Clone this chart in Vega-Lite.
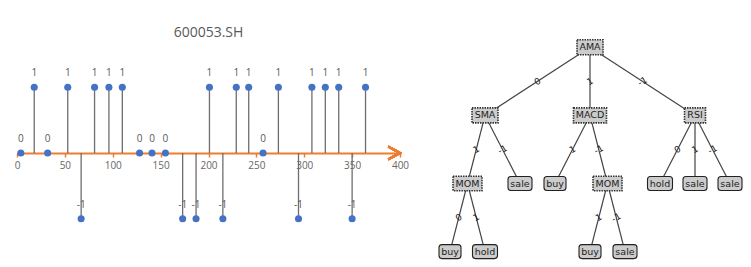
{
  "$schema": "https://vega.github.io/schema/vega-lite/v6.json",
  "padding": {"top": 26, "left": 14, "right": 0, "bottom": 0},
  "spacing": 11,
  "background": "white",
  "config": {"view": {"stroke": null}, "font": "Open Sans"},
  "hconcat": [
    {
      "width": 383,
      "height": 227,
      "title": {"text": "600053.SH", "fontSize": 14, "font": "Open Sans", "fontWeight": "normal", "color": "#595959", "offset": 0, "anchor": "middle"},
      "data": {"values": [
        {"t": 4, "v": 0}, {"t": 18, "v": 1}, {"t": 32, "v": 0}, {"t": 53, "v": 1}, {"t": 67, "v": -1},
        {"t": 81, "v": 1}, {"t": 96, "v": 1}, {"t": 110, "v": 1}, {"t": 128, "v": 0}, {"t": 141, "v": 0},
        {"t": 155, "v": 0}, {"t": 173, "v": -1}, {"t": 187, "v": -1}, {"t": 201, "v": 1}, {"t": 215, "v": -1},
        {"t": 229, "v": 1}, {"t": 242, "v": 1}, {"t": 257, "v": 0}, {"t": 273, "v": 1}, {"t": 294, "v": -1},
        {"t": 308, "v": 1}, {"t": 322, "v": 1}, {"t": 336, "v": 1}, {"t": 350, "v": -1}, {"t": 364, "v": 1}
      ]},
      "layer": [
        {
          "mark": {"type": "rule", "color": "#6e6e6e", "strokeWidth": 1.3},
          "encoding": {
            "x": {"field": "t", "type": "quantitative",
                  "scale": {"domain": [0, 400], "nice": false, "zero": false},
                  "axis": {"values": [0, 50, 100, 150, 200, 250, 300, 350, 400], "domainColor": "#ED7D31", "domainWidth": 2.2,
                           "tickColor": "#ED7D31", "tickWidth": 1.5, "tickSize": 4, "labelColor": "#666666", "labelFontSize": 10,
                           "labelFont": "Open Sans", "labelPadding": 3, "labelFlush": false, "grid": false, "title": null, "offset": -114}},
            "y": {"field": "v", "type": "quantitative", "scale": {"domain": [-1.736, 1.7207], "nice": false, "zero": false}, "axis": null},
            "y2": {"datum": 0}
          }
        },
        {
          "mark": {"type": "point", "shape": "M-1,-0.55L0,0L-1,0.55", "filled": false, "stroke": "#ED7D31", "strokeWidth": 2, "size": 547, "opacity": 1},
          "encoding": {"x": {"datum": 400}, "y": {"datum": 0}}
        },
        {
          "mark": {"type": "circle", "color": "#4472C4", "size": 50, "opacity": 1},
          "encoding": {"x": {"field": "t", "type": "quantitative"}, "y": {"field": "v", "type": "quantitative"}}
        },
        {
          "mark": {"type": "text", "dy": -14, "fontSize": 10, "fill": "#595959", "font": "Open Sans"},
          "encoding": {"x": {"field": "t", "type": "quantitative"}, "y": {"field": "v", "type": "quantitative"}, "text": {"field": "v", "type": "nominal"}}
        }
      ]
    },
    {
      "width": 331,
      "height": 227,
      "layer": [
        {
          "data": {"values": [
            {"s1": 4, "l1": 0, "s2": 1, "l2": 1, "lab": "0"},
            {"s1": 4, "l1": 0, "s2": 4, "l2": 1, "lab": "1"},
            {"s1": 4, "l1": 0, "s2": 7, "l2": 1, "lab": "-1"},
            {"s1": 1, "l1": 1, "s2": 0.5, "l2": 2, "lab": "1"},
            {"s1": 1, "l1": 1, "s2": 2, "l2": 2, "lab": "-1"},
            {"s1": 4, "l1": 1, "s2": 3, "l2": 2, "lab": "1"},
            {"s1": 4, "l1": 1, "s2": 4.5, "l2": 2, "lab": "-1"},
            {"s1": 7, "l1": 1, "s2": 6, "l2": 2, "lab": "0"},
            {"s1": 7, "l1": 1, "s2": 7, "l2": 2, "lab": "1"},
            {"s1": 7, "l1": 1, "s2": 8, "l2": 2, "lab": "-1"},
            {"s1": 0.5, "l1": 2, "s2": 0, "l2": 3, "lab": "0"},
            {"s1": 0.5, "l1": 2, "s2": 1, "l2": 3, "lab": "1"},
            {"s1": 4.5, "l1": 2, "s2": 4, "l2": 3, "lab": "1"},
            {"s1": 4.5, "l1": 2, "s2": 5, "l2": 3, "lab": "-1"}
          ]},
          "transform": [
            {"calculate": "(datum.s1 + datum.s2) / 2", "as": "ms"},
            {"calculate": "(datum.l1 + datum.l2) / 2", "as": "ml"}
          ],
          "layer": [
            {
              "mark": {"type": "rule", "color": "#444444", "strokeWidth": 1.2},
              "encoding": {
                "x": {"field": "s1", "type": "quantitative", "scale": {"domain": [-0.857, 8.6], "nice": false, "zero": false}, "axis": null},
                "x2": {"field": "s2"},
                "y": {"field": "l1", "type": "quantitative", "scale": {"domain": [-0.1072, 3.226], "nice": false, "zero": false, "reverse": true}, "axis": null},
                "y2": {"field": "l2"}
              }
            },
            {
              "mark": {"type": "text", "angle": 330, "fontSize": 9, "fill": "#222222", "font": "DejaVu Sans"},
              "encoding": {
                "x": {"field": "ms", "type": "quantitative"},
                "y": {"field": "ml", "type": "quantitative"},
                "text": {"field": "lab", "type": "nominal"}
              }
            }
          ]
        },
        {
          "data": {"values": [
            {"label": "AMA", "s": 4, "l": 0, "kind": "decision"},
            {"label": "SMA", "s": 1, "l": 1, "kind": "decision"},
            {"label": "MACD", "s": 4, "l": 1, "kind": "decision"},
            {"label": "RSI", "s": 7, "l": 1, "kind": "decision"},
            {"label": "MOM", "s": 0.5, "l": 2, "kind": "decision"},
            {"label": "sale", "s": 2, "l": 2, "kind": "leaf"},
            {"label": "buy", "s": 3, "l": 2, "kind": "leaf"},
            {"label": "MOM", "s": 4.5, "l": 2, "kind": "decision"},
            {"label": "hold", "s": 6, "l": 2, "kind": "leaf"},
            {"label": "sale", "s": 7, "l": 2, "kind": "leaf"},
            {"label": "sale", "s": 8, "l": 2, "kind": "leaf"},
            {"label": "buy", "s": 0, "l": 3, "kind": "leaf"},
            {"label": "hold", "s": 1, "l": 3, "kind": "leaf"},
            {"label": "buy", "s": 4, "l": 3, "kind": "leaf"},
            {"label": "sale", "s": 5, "l": 3, "kind": "leaf"}
          ]},
          "layer": [
            {
              "transform": [{"filter": "datum.kind === 'decision'"}],
              "mark": {"type": "point", "filled": true, "fill": "#cccccc", "stroke": "#333333", "strokeWidth": 1.6, "strokeDash": [1.5, 1], "size": 400, "opacity": 1, "fillOpacity": 1, "strokeOpacity": 1},
              "encoding": {
                "x": {"field": "s", "type": "quantitative"},
                "y": {"field": "l", "type": "quantitative"},
                "shape": {"field": "label", "type": "nominal", "legend": null,
                  "scale": {"domain": ["AMA", "SMA", "MACD", "RSI", "MOM", "sale", "buy", "hold"],
                            "range": ["M-1.3,-0.75H1.3V0.75H-1.3Z", "M-1.3,-0.75H1.3V0.75H-1.3Z", "M-1.65,-0.75H1.65V0.75H-1.65Z", "M-1.05,-0.75H1.05V0.75H-1.05Z", "M-1.45,-0.72H1.45V0.72H-1.45Z",
                                      "M-0.9,-0.7H0.9Q1.2,-0.7 1.2,-0.4V0.4Q1.2,0.7 0.9,0.7H-0.9Q-1.2,0.7 -1.2,0.4V-0.4Q-1.2,-0.7 -0.9,-0.7Z",
                                      "M-0.8,-0.7H0.8Q1.1,-0.7 1.1,-0.4V0.4Q1.1,0.7 0.8,0.7H-0.8Q-1.1,0.7 -1.1,0.4V-0.4Q-1.1,-0.7 -0.8,-0.7Z",
                                      "M-0.95,-0.7H0.95Q1.25,-0.7 1.25,-0.4V0.4Q1.25,0.7 0.95,0.7H-0.95Q-1.25,0.7 -1.25,0.4V-0.4Q-1.25,-0.7 -0.95,-0.7Z"]}}
              }
            },
            {
              "transform": [{"filter": "datum.kind === 'leaf'"}],
              "mark": {"type": "point", "filled": true, "fill": "#cccccc", "stroke": "#222222", "strokeWidth": 1.1, "size": 400, "opacity": 1, "fillOpacity": 1, "strokeOpacity": 1},
              "encoding": {
                "x": {"field": "s", "type": "quantitative"},
                "y": {"field": "l", "type": "quantitative"},
                "shape": {"field": "label", "type": "nominal", "legend": null}
              }
            },
            {
              "mark": {"type": "text", "fontSize": 9.5, "font": "DejaVu Sans", "fill": "#222222", "baseline": "middle"},
              "encoding": {
                "x": {"field": "s", "type": "quantitative"},
                "y": {"field": "l", "type": "quantitative"},
                "text": {"field": "label", "type": "nominal"}
              }
            }
          ]
        }
      ]
    }
  ]
}
